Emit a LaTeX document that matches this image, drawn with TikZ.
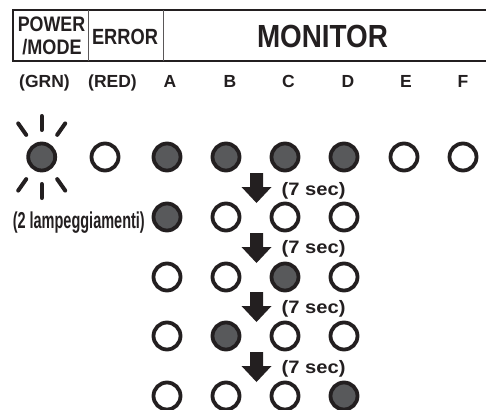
\documentclass[tikz,border=0pt]{standalone}
\usepackage{fontspec}
\setmainfont{Liberation Sans}
\usepackage{graphicx}
\definecolor{ink}{HTML}{231F20}
\definecolor{ledgray}{HTML}{58595B}
\newcommand{\hs}[2]{\scalebox{#1}[1]{#2}}
\newcommand{\fsz}[1]{\bfseries\fontsize{#1}{#1}\selectfont}
\begin{document}
\begin{tikzpicture}[x=1pt,y=-1pt,
  led/.style={circle,draw=ink,line width=3.8pt,minimum size=27pt,inner sep=0pt,fill=white},
  ledon/.style={led,fill=ledgray},
  ray/.style={draw=ink,line width=4pt,line cap=round},
  txt/.style={inner sep=0pt,anchor=base,text=ink},
  lbl/.style={txt,font=\fsz{17.5}},
  secl/.style={txt,anchor=base west,font=\fsz{18}},
  frame/.style={draw=ink,line width=2.3pt,line join=miter},
  divider/.style={draw=ink!75,line width=1pt},
  downarrow/.style={fill=ink}]
\useasboundingbox (0,0) rectangle (486,409);
\clip (0,0) rectangle (486,409);

% header table
\coordinate (tr) at (486,10);
\coordinate (tl) at (13,10);
\coordinate (bl) at (13,61);
\coordinate (br) at (486,61);
\draw[frame] (tr) -- (tl) -- (bl) -- (br);
\coordinate (d1t) at (88,10); \coordinate (d1b) at (88,61);
\coordinate (d2t) at (163,10); \coordinate (d2b) at (163,61);
\draw[divider] (d1t) -- (d1b);
\draw[divider] (d2t) -- (d2b);

\node[txt,font=\fsz{21}] (power) at (51.5,32) {\hs{0.85}{POWER}};
\node[txt,font=\fsz{21}] (mode) at (52,55) {\hs{0.86}{/MODE}};
\node[txt,font=\fsz{22}] (error) at (125,45) {\hs{0.83}{ERROR}};
\node[txt,font=\fsz{32}] (monitor) at (322.5,48) {\hs{0.87}{MONITOR}};

% column labels
\node[lbl] (lgrn) at (44.5,88) {(GRN)};
\node[lbl] (lred) at (112.5,88) {(RED)};
\node[lbl] (la) at (170,88) {A};
\node[lbl] (lb) at (230,88) {B};
\node[lbl] (lc) at (288.5,88) {C};
\node[lbl] (ld) at (348,88) {D};
\node[lbl] (le) at (406,88) {E};
\node[lbl] (lf) at (463,88) {F};

% row 1
\node[ledon] (g1) at (41.7,157) {};
\node[led] (r1) at (105,157) {};
\node[ledon] (a1) at (167,157) {};
\node[ledon] (b1) at (226,157) {};
\node[ledon] (c1) at (285,157) {};
\node[ledon] (d1) at (344,157) {};
\node[led] (e1) at (404,157) {};
\node[led] (f1) at (463,157) {};

% flashing rays
\foreach \ang in {90,55,125,270,235,305}
  \draw[ray] ([shift={(\ang:27)}]g1.center) -- ([shift={(\ang:41)}]g1.center);

% row 2
\node[txt,anchor=base east,font=\fsz{23}] (lamp) at (145,228) {\hs{0.63}{(2 lampeggiamenti)}};
\node[ledon] (a2) at (167,217) {};
\node[led] (b2) at (226,217) {};
\node[led] (c2) at (285,217) {};
\node[led] (d2) at (344,217) {};

% row 3
\node[led] (a3) at (167,277) {};
\node[led] (b3) at (226,277) {};
\node[ledon] (c3) at (285,277) {};
\node[led] (d3) at (344,277) {};

% row 4
\node[led] (a4) at (167,336) {};
\node[ledon] (b4) at (226,336) {};
\node[led] (c4) at (285,336) {};
\node[led] (d4) at (344,336) {};

% row 5
\node[led] (a5) at (167,396) {};
\node[led] (b5) at (226,396) {};
\node[led] (c5) at (285,396) {};
\node[ledon] (d5) at (344,396) {};

% arrows and timing labels
\foreach \top/\base [count=\i] in {173/195, 233/253, 292/313, 352/373} {
  \coordinate (arr\i) at (256.5,\top);
  \fill[downarrow] (arr\i) ++(-6.5,0) -- ++(13,0) -- ++(0,14) -- ++(8.5,0)
     -- ++(-15,16) -- ++(-15,-16) -- ++(8.5,0) -- cycle;
  \node[secl] (sec\i) at (281.5,\base) {\hs{1.12}{(7 sec)}};
}
\end{tikzpicture}
\end{document}
